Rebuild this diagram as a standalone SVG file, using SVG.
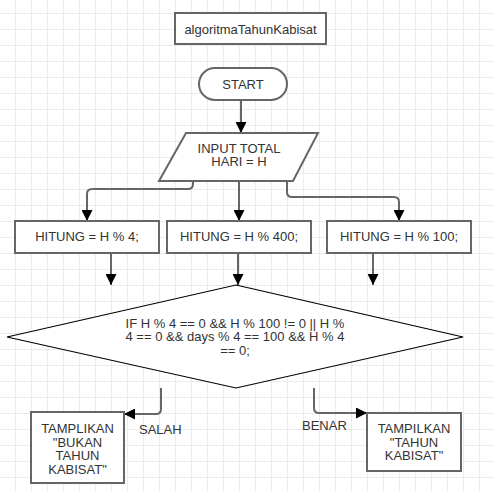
<svg xmlns="http://www.w3.org/2000/svg" width="494" height="491" viewBox="0 0 494 491">
  <defs>
    <pattern id="grid" patternUnits="userSpaceOnUse" x="15" y="13" width="16" height="16">
      <path d="M0,0.5 H16 M0.5,0 V16" fill="none" stroke="#ebebeb" stroke-width="1"/>
    </pattern>
    <marker id="arrow" markerUnits="userSpaceOnUse" markerWidth="11" markerHeight="11" viewBox="0 0 10 10" refX="10" refY="5" orient="auto">
      <path d="M0,0 L10,5 L0,10 z" fill="#000"/>
    </marker>
    <style>
      .box { fill: #fff; stroke: #666; stroke-width: 2; }
      .dia { fill: #fff; stroke: #000; stroke-width: 1.2; }
      .t { font-family: "Liberation Sans", Arial, Helvetica, sans-serif; font-size: 13px; fill: #333; text-anchor: middle; }
      .ts { font-family: "Liberation Sans", Arial, Helvetica, sans-serif; font-size: 13px; fill: #333; text-anchor: start; }
      .c { fill: none; stroke: #666; stroke-width: 2; marker-end: url(#arrow); }
    </style>
  </defs>
  <rect x="0" y="0" width="494" height="491" fill="#fff"/>
  <rect x="0" y="0" width="494" height="491" fill="url(#grid)"/>

  <g id="connectors">
    <path class="c" d="M241,100 V133"/>
    <path class="c" d="M193,181 V184 Q193,189 188,189 H92 Q87,189 87,194 V221"/>
    <path class="c" d="M239,181 V221"/>
    <path class="c" d="M287,181 V192 Q287,197 292,197 H394 Q399,197 399,202 V221"/>
    <path class="c" d="M111,253 V285"/>
    <path class="c" d="M238,253 V285"/>
    <path class="c" d="M373,253 V285"/>
    <path class="c" d="M161,388 V409 Q161,414 156,414 H124"/>
    <path class="c" d="M314,388 V408 Q314,413 319,413 H367"/>
  </g>

  <g id="title">
    <rect class="box" x="175" y="13" width="151" height="31"/>
    <text class="t" x="250.5" y="33.5">algoritmaTahunKabisat</text>
  </g>

  <g id="start">
    <rect class="box" x="199" y="68" width="88" height="32" rx="16" ry="16"/>
    <text class="t" x="243" y="89">START</text>
  </g>

  <g id="input">
    <polygon class="box" points="186,133 318,133 293,181 159,181"/>
    <text class="t" x="239" y="152.5">INPUT TOTAL</text>
    <text class="t" x="239" y="166">HARI = H</text>
  </g>

  <g id="hitung4">
    <rect class="box" x="15" y="221" width="144" height="32"/>
    <text class="t" x="87" y="241">HITUNG = H % 4;</text>
  </g>

  <g id="hitung400">
    <rect class="box" x="167" y="221" width="144" height="32"/>
    <text class="t" x="239" y="241">HITUNG = H % 400;</text>
  </g>

  <g id="hitung100">
    <rect class="box" x="327" y="221" width="144" height="32"/>
    <text class="t" x="399" y="241">HITUNG = H % 100;</text>
  </g>

  <g id="decision">
    <polygon class="dia" points="236,285 463,337 236,388 7,337"/>
    <text class="t" x="235" y="327.5">IF H % 4 == 0 &amp;&amp; H % 100 != 0 || H %</text>
    <text class="t" x="235" y="341">4 == 0 &amp;&amp; days % 4 == 100 &amp;&amp; H % 4</text>
    <text class="t" x="235" y="354.5">== 0;</text>
  </g>

  <g id="bukan">
    <rect class="box" x="31" y="412" width="93" height="71"/>
    <text class="t" x="77.5" y="433">TAMPLIKAN</text>
    <text class="t" x="77.5" y="446.5">"BUKAN</text>
    <text class="t" x="77.5" y="460">TAHUN</text>
    <text class="t" x="77.5" y="473.5">KABISAT"</text>
  </g>

  <g id="tahun">
    <rect class="box" x="367" y="413" width="94" height="58"/>
    <text class="t" x="414" y="433">TAMPILKAN</text>
    <text class="t" x="414" y="446.5">"TAHUN</text>
    <text class="t" x="414" y="460">KABISAT"</text>
  </g>

  <g id="labels">
    <text class="ts" x="139" y="434">SALAH</text>
    <text class="ts" x="302" y="430">BENAR</text>
  </g>
</svg>
